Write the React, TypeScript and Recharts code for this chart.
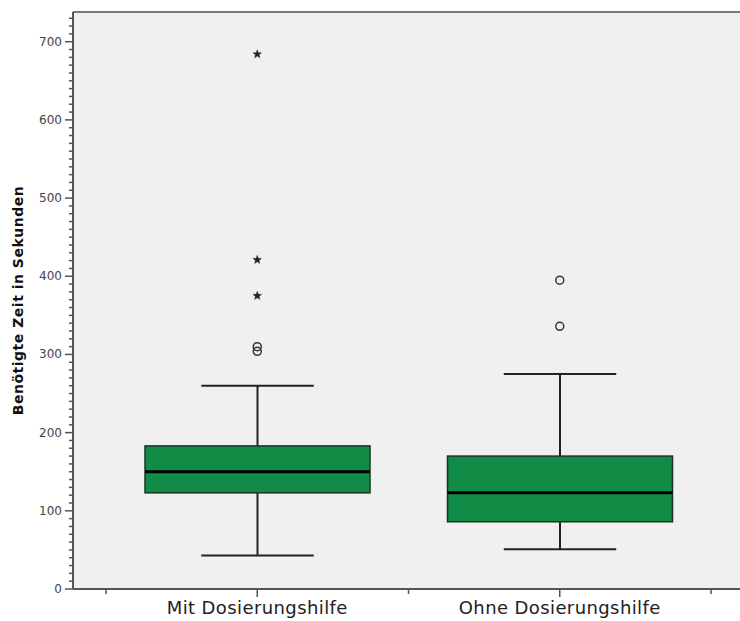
import React from 'react';
import { ComposedChart, Bar, Line, XAxis, YAxis, Label, CartesianGrid, ReferenceLine } from 'recharts';

const categories = ['Mit Dosierungshilfe', 'Ohne Dosierungshilfe'];
const whiskerLow = [43, 51];
const quartile1 = [123, 86];
const medians = [150, 123];
const quartile3 = [183, 170];
const whiskerHigh = [260, 275];
const outlierValues = [
  [684, 421, 375, 310, 304],
  [395, 336],
];
const outlierKinds = [
  ['extreme', 'extreme', 'extreme', 'outlier', 'outlier'],
  ['outlier', 'outlier'],
];
const yMajorTicks = [0, 100, 200, 300, 400, 500, 600, 700];
const yAllTicks = Array.from({ length: 74 }, (_, i) => i * 10);
const yLabel = 'Benötigte Zeit in Sekunden';
const Y_MAX = 738;

const maxOutliers = Math.max(...outlierValues.map((o) => o.length));

const data = categories.map((name, i) => {
  const row: any = {
    name,
    box: [quartile1[i], quartile3[i]],
    lo: whiskerLow[i],
    q1: quartile1[i],
    med: medians[i],
    q3: quartile3[i],
    hi: whiskerHigh[i],
  };
  for (let k = 0; k < maxOutliers; k++) {
    row[`o${k}`] = outlierValues[i][k] ?? null;
    row[`k${k}`] = outlierKinds[i][k] ?? null;
  }
  return row;
});

const FONT = '"DejaVu Sans", "Open Sans", sans-serif';

const BoxShape = (props: any) => {
  const { x, y, width, height, payload } = props;
  if (x == null || y == null) return <g />;
  const top = Math.min(y, y + height);
  const h = Math.abs(height);
  const bottom = top + h;
  const ppu = h / (payload.q3 - payload.q1);
  const yOf = (v: number) => bottom - (v - payload.q1) * ppu;
  const cx = x + width / 2;
  const capHalf = width / 4;
  const wc = '#222';
  return (
    <g>
      <line x1={cx} x2={cx} y1={yOf(payload.hi)} y2={top} stroke={wc} strokeWidth={2} />
      <line x1={cx} x2={cx} y1={bottom} y2={yOf(payload.lo)} stroke={wc} strokeWidth={2} />
      <line x1={cx - capHalf} x2={cx + capHalf} y1={yOf(payload.hi)} y2={yOf(payload.hi)} stroke={wc} strokeWidth={2} />
      <line x1={cx - capHalf} x2={cx + capHalf} y1={yOf(payload.lo)} y2={yOf(payload.lo)} stroke={wc} strokeWidth={2} />
      <rect x={x} y={top} width={width} height={h} fill="#118C47" stroke="#1d3326" strokeWidth={1.5} />
      <line x1={x} x2={x + width} y1={yOf(payload.med)} y2={yOf(payload.med)} stroke="#000" strokeWidth={3} />
    </g>
  );
};

const starPath = (cx: number, cy: number, ro: number, ri: number) => {
  let d = '';
  for (let i = 0; i < 10; i++) {
    const r = i % 2 === 0 ? ro : ri;
    const a = -Math.PI / 2 + (i * Math.PI) / 5;
    d += (i === 0 ? 'M' : 'L') + (cx + r * Math.cos(a)).toFixed(2) + ',' + (cy + r * Math.sin(a)).toFixed(2);
  }
  return d + 'Z';
};

const makeDot = (k: number) => (props: any) => {
  const { cx, cy, payload } = props;
  const key = `d${k}-${props.index}`;
  if (cx == null || cy == null || payload[`o${k}`] == null) return <g key={key} />;
  if (payload[`k${k}`] === 'extreme') {
    return <path key={key} d={starPath(cx, cy, 4.5, 1.9)} fill="#222" stroke="#222" strokeWidth={0.4} />;
  }
  return <circle key={key} cx={cx} cy={cy} r={4} fill="none" stroke="#333" strokeWidth={1.5} />;
};

const YTick = (props: any) => {
  const { x, y, payload } = props;
  const v = payload.value;
  const major = yMajorTicks.includes(v);
  const len = major ? 8 : 4;
  return (
    <g>
      <line x1={x - len} x2={x} y1={y} y2={y} stroke="#555" strokeWidth={1.5} />
      {major && (
        <text x={x - len - 3} y={y} textAnchor="end" dominantBaseline="central" fontSize={12} fill="#444" fontFamily={FONT}>
          {v}
        </text>
      )}
    </g>
  );
};

const XTick = (props: any) => {
  const { x, y, payload, index, visibleTicksCount } = props;
  const half = payload && payload.offset ? payload.offset : 151;
  const isLast = visibleTicksCount != null ? index === visibleTicksCount - 1 : index === categories.length - 1;
  return (
    <g>
      <line x1={x} x2={x} y1={y} y2={y + 8} stroke="#555" strokeWidth={1.5} />
      <line x1={x - half} x2={x - half} y1={y} y2={y + 5} stroke="#555" strokeWidth={1.5} />
      {isLast && <line x1={x + half} x2={x + half} y1={y} y2={y + 5} stroke="#555" strokeWidth={1.5} />}
      <text
        x={x}
        y={y + 11}
        textAnchor="middle"
        dominantBaseline="hanging"
        fontSize={18}
        letterSpacing={0.4}
        fill="#222"
        fontFamily={FONT}
      >
        {payload.value}
      </text>
    </g>
  );
};

const renderYLabel = (props: any) => {
  const vb = props.viewBox || {};
  const cy = (vb.y ?? 12) + (vb.height ?? 577) / 2;
  const cx = 18;
  return (
    <text
      x={cx}
      y={cy}
      transform={`rotate(-90, ${cx}, ${cy})`}
      textAnchor="middle"
      dominantBaseline="central"
      fontSize={14}
      letterSpacing={0.5}
      fontWeight="bold"
      fill="#111"
      fontFamily={FONT}
    >
      {yLabel}
    </text>
  );
};

export default function App() {
  return (
    <div style={{ position: 'fixed', left: 0, top: 0, width: 740, height: 621, overflow: 'hidden', background: '#fff' }}>
      <ComposedChart width={760} height={621} data={data} margin={{ top: 12, right: 16, bottom: 0, left: 0 }}>
        <CartesianGrid fill="#f0f0f0" horizontal={false} vertical={false} />
        <XAxis
          dataKey="name"
          type="category"
          padding={{ left: 33, right: 33 }}
          height={32}
          tickLine={false}
          tickSize={0}
          tickMargin={0}
          interval={0}
          axisLine={{ stroke: '#555', strokeWidth: 2 }}
          tick={<XTick />}
        />
        <YAxis
          type="number"
          domain={[0, Y_MAX]}
          ticks={yAllTicks}
          interval={0}
          width={73}
          tickLine={false}
          tickSize={0}
          tickMargin={0}
          tick={<YTick />}
          axisLine={{ stroke: '#555', strokeWidth: 2 }}
          label={<Label content={renderYLabel} />}
        />
        <ReferenceLine y={Y_MAX} stroke="#777" strokeWidth={2} ifOverflow="visible" />
        <Bar dataKey="box" barSize={225} shape={<BoxShape />} isAnimationActive={false} />
        {Array.from({ length: maxOutliers }, (_, k) => (
          <Line
            key={k}
            dataKey={`o${k}`}
            stroke="none"
            dot={makeDot(k)}
            activeDot={false}
            isAnimationActive={false}
            connectNulls={false}
          />
        ))}
      </ComposedChart>
    </div>
  );
}
